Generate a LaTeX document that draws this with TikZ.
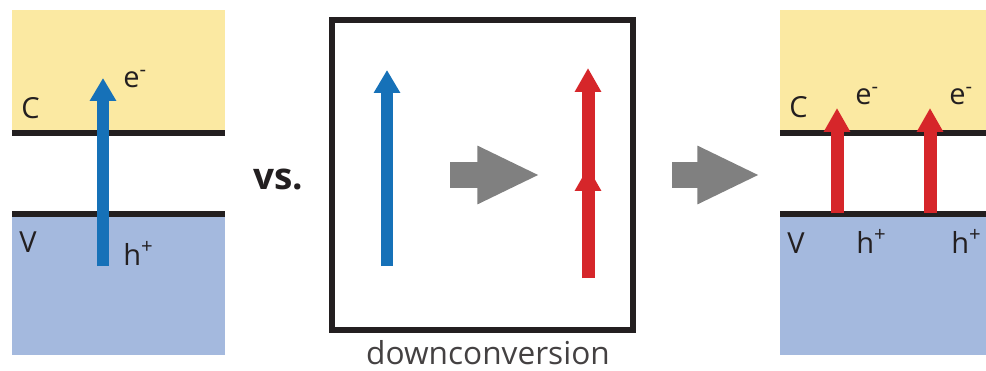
\documentclass[tikz,border=0pt]{standalone}
\usepackage{fontspec}
\setmainfont{Open Sans}
\usetikzlibrary{arrows.meta}
\definecolor{bandC}{RGB}{251,233,162}
\definecolor{bandV}{RGB}{164,185,222}
\definecolor{photonblue}{RGB}{22,113,184}
\definecolor{photonred}{RGB}{214,38,42}
\definecolor{stepgray}{RGB}{128,128,128}
\definecolor{ink}{RGB}{35,31,32}
\begin{document}
% one unit = 0.02cm = 0.567pt
\begin{tikzpicture}[x=0.02cm,y=-0.02cm,
  edge/.style={draw=ink,line width=3.12pt},
  blueup/.style={photonblue,line width=6.8pt,-{Triangle[length=13.0pt,width=14.2pt]}},
  redup/.style={photonred,line width=7.4pt,-{Triangle[length=13.6pt,width=14.2pt]}},
  bigstep/.style={stepgray,line width=14.7pt,-{Triangle[length=35.7pt,width=30.6pt]}},
  lbl/.style={font=\fontsize{16.5}{17}\selectfont,text=ink,inner sep=0,anchor=base west},
  caption/.style={font=\fontsize{18}{19}\selectfont,text=ink!85,inner sep=0,anchor=base},
  versus/.style={font=\bfseries\fontsize{21}{22}\selectfont,text=ink,inner sep=0,anchor=base west}]
\useasboundingbox (0,0) rectangle (986,371);

% ---- left panel: single photon across the gap ----
\fill[bandC] (12,10) rectangle (225,133);
\fill[bandV] (12,214) rectangle (225,355);
\draw[edge] (12,133) -- (225,133);
\draw[edge] (12,214) -- (225,214);
\coordinate (lb0) at (103,266);
\coordinate (lb1) at (103,78);
\draw[blueup] (lb0) -- (lb1);
\node[lbl] (lC) at (21,119) {C};
\node[lbl] (lV) at (19,252) {V};
\node[lbl] (le) at (123,88) {e\textsuperscript{-}};
\node[lbl] (lh) at (123,265) {h\textsuperscript{+}};

\node[versus] (vs) at (253,190) {vs.};

% ---- middle box: downconversion ----
\draw[edge] (332,20) rectangle (633,330);
\coordinate (mb0) at (387,266);
\coordinate (mb1) at (387,70);
\draw[blueup] (mb0) -- (mb1);
\coordinate (ms0) at (450,175);
\coordinate (ms1) at (540,175);
\draw[bigstep] (ms0) -- (ms1);
% two photons stacked on one line: a head halfway and a head on top
\coordinate (mr0) at (588,278);
\coordinate (mr1) at (588,167);
\coordinate (mr2) at (588,68);
\draw[redup] (mr0) -- (mr1);
\draw[redup] (mr0) -- (mr2);
\node[caption] (dc) at (488,364) {downconversion};

% ---- arrow to right panel ----
\coordinate (rs0) at (672,175);
\coordinate (rs1) at (760,175);
\draw[bigstep] (rs0) -- (rs1);

% ---- right panel: two photons across the gap ----
\fill[bandC] (780,10) rectangle (986,133);
\fill[bandV] (780,214) rectangle (986,355);
\draw[edge] (780,133) -- (986,133);
\draw[edge] (780,214) -- (986,214);
\coordinate (ra0) at (837,213);
\coordinate (ra1) at (837,108);
\coordinate (rb0) at (930,213);
\coordinate (rb1) at (930,108);
\draw[redup] (ra0) -- (ra1);
\draw[redup] (rb0) -- (rb1);
\node[lbl] (rC) at (789,118) {C};
\node[lbl] (rV) at (787,253) {V};
\node[lbl] (re1) at (855,105) {e\textsuperscript{-}};
\node[lbl] (re2) at (949,105) {e\textsuperscript{-}};
\node[lbl] (rh1) at (856,253) {h\textsuperscript{+}};
\node[lbl] (rh2) at (951,253) {h\textsuperscript{+}};
\end{tikzpicture}
\end{document}
